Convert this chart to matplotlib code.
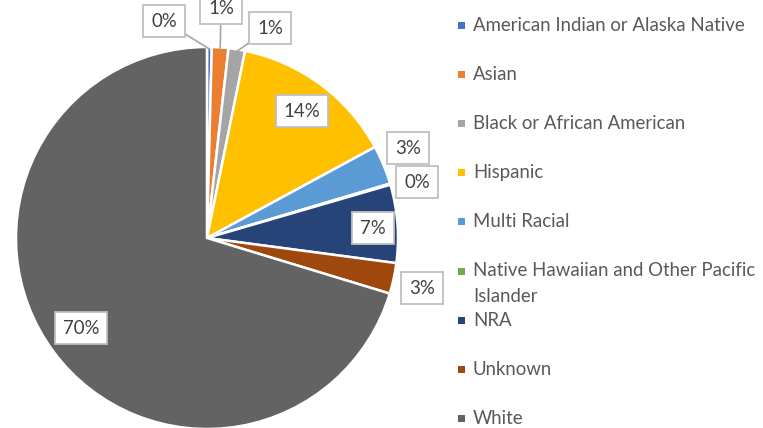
import matplotlib
matplotlib.use("Agg")
import matplotlib.pyplot as plt
import numpy as np

# Enrollment share by race / ethnicity (percent)
categories = [
    "American Indian or Alaska Native",
    "Asian",
    "Black or African American",
    "Hispanic",
    "Multi Racial",
    "Native Hawaiian and Other Pacific\nIslander",
    "NRA",
    "Unknown",
    "White",
]
shares = [0.4, 1.4, 1.4, 13.9, 3.3, 0.1, 6.6, 2.6, 70.3]
colors = ["#4472C4", "#ED7D31", "#A5A5A5", "#FFC000", "#5B9BD5",
          "#70AD47", "#264478", "#9E480E", "#636363"]

# label box centres in pixel space (x right, y down), one per slice
label_pos = [(164, 21), (221, 8), (270, 28), (302, 111), (408, 148),
             (417, 182), (373, 228), (422, 288), (81, 328)]
leader = [True, True, True, False, False, False, False, False, False]

W, H = 763, 428
fig = plt.figure(figsize=(W / 100, H / 100), dpi=100)
ax = fig.add_axes([0, 0, 1, 1])

font = "Lato"
fs = 13.4
cx, cy, r = 207, H - 238, 191
wedges, _ = ax.pie(shares, colors=colors, startangle=90, counterclock=False,
                   center=(cx, cy), radius=r, frame=True,
                   wedgeprops=dict(edgecolor="white", linewidth=1.8))
ax.set_xlim(0, W)
ax.set_ylim(0, H)
ax.set_aspect("equal")
ax.axis("off")

box = dict(boxstyle="square,pad=0.42", fc="white", ec="#BFBFBF", lw=1.3)
for w, val, (lx, ly), lead in zip(wedges, shares, label_pos, leader):
    txt = f"{round(val):d}%"
    if lead:
        ang = np.deg2rad((w.theta1 + w.theta2) / 2)
        tip = (cx + r * np.cos(ang), cy + r * np.sin(ang) - 2)
        ax.annotate(txt, xy=tip, xytext=(lx, H - ly), ha="center", va="center",
                    fontsize=fs, family=font, color="#404040", bbox=box,
                    arrowprops=dict(arrowstyle="-", color="#A6A6A6", lw=1.2,
                                    shrinkA=0, shrinkB=0))
    else:
        ax.text(lx, H - ly, txt, ha="center", va="center", fontsize=fs,
                family=font, color="#404040", bbox=box)

# legend column
lx0, ly0, step = 461, 25, 49.2
for i, (name, c) in enumerate(zip(categories, colors)):
    y = H - (ly0 + i * step)
    ax.add_patch(plt.Rectangle((lx0 - 3.5, y - 3.5), 7, 7, color=c, lw=0))
    for j, line in enumerate(name.split("\n")):
        ax.text(lx0 + 12, y - 25 * j, line, ha="left", va="center",
                fontsize=fs, family=font, color="#595959")

fig.savefig("out.png", dpi=100)
